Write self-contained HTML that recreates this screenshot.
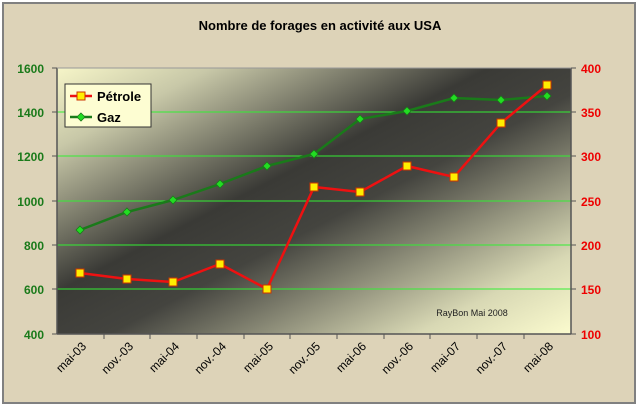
<!DOCTYPE html>
<html><head><style>
body{margin:0;background:#fff;}
svg{display:block;font-family:"Liberation Sans",Arial,sans-serif;}
</style></head><body>
<svg width="640" height="407" viewBox="0 0 640 407" xmlns="http://www.w3.org/2000/svg">
<defs>
<linearGradient id="bg" x1="0" y1="0" x2="1" y2="1">
<stop offset="0" stop-color="#f6f5c8"/>
<stop offset="0.15" stop-color="#c8c8a8"/>
<stop offset="0.42" stop-color="#3a3a36"/>
<stop offset="0.55" stop-color="#44443f"/>
<stop offset="0.85" stop-color="#d8d8b4"/>
<stop offset="1" stop-color="#fbfbce"/>
</linearGradient>
</defs>
<rect x="0" y="0" width="640" height="407" fill="#fff"/>
<rect x="3" y="3" width="632" height="400" fill="#ddd3b8" stroke="#808080" stroke-width="2"/>
<text x="320" y="30" text-anchor="middle" font-size="13" font-weight="bold" fill="#000">Nombre de forages en activité aux USA</text>
<rect x="57" y="68" width="514" height="266" fill="url(#bg)"/>
<g stroke="#33ee33" stroke-width="1">
<line x1="57" y1="112" x2="571" y2="112"/>
<line x1="57" y1="156" x2="571" y2="156"/>
<line x1="57" y1="201" x2="571" y2="201"/>
<line x1="57" y1="245" x2="571" y2="245"/>
<line x1="57" y1="289" x2="571" y2="289"/>
</g>
<g stroke="#555" stroke-width="1.5" fill="none">
<line x1="57" y1="68" x2="57" y2="334"/>
<line x1="571" y1="68" x2="571" y2="334"/>
<line x1="57" y1="334" x2="571" y2="334"/>
<line x1="57" y1="68" x2="571" y2="68" stroke="#999" stroke-width="1"/>
</g>
<g stroke="#555" stroke-width="1">
<line x1="52" y1="68" x2="57" y2="68"/><line x1="52" y1="112" x2="57" y2="112"/><line x1="52" y1="156" x2="57" y2="156"/><line x1="52" y1="201" x2="57" y2="201"/><line x1="52" y1="245" x2="57" y2="245"/><line x1="52" y1="289" x2="57" y2="289"/><line x1="52" y1="334" x2="57" y2="334"/>
<line x1="571" y1="68" x2="576" y2="68"/><line x1="571" y1="112" x2="576" y2="112"/><line x1="571" y1="156" x2="576" y2="156"/><line x1="571" y1="201" x2="576" y2="201"/><line x1="571" y1="245" x2="576" y2="245"/><line x1="571" y1="289" x2="576" y2="289"/><line x1="571" y1="334" x2="576" y2="334"/>
<line x1="104" y1="334" x2="104" y2="339"/><line x1="150" y1="334" x2="150" y2="339"/><line x1="197" y1="334" x2="197" y2="339"/><line x1="244" y1="334" x2="244" y2="339"/><line x1="290" y1="334" x2="290" y2="339"/><line x1="337" y1="334" x2="337" y2="339"/><line x1="384" y1="334" x2="384" y2="339"/><line x1="430" y1="334" x2="430" y2="339"/><line x1="477" y1="334" x2="477" y2="339"/><line x1="524" y1="334" x2="524" y2="339"/>
</g>
<g font-size="12" font-weight="bold" fill="#1a7a1a" text-anchor="end">
<text x="44" y="73">1600</text><text x="44" y="117">1400</text><text x="44" y="161">1200</text><text x="44" y="206">1000</text><text x="44" y="250">800</text><text x="44" y="294">600</text><text x="44" y="339">400</text>
</g>
<g font-size="12" font-weight="bold" fill="#ee0000" text-anchor="start">
<text x="581" y="73">400</text><text x="581" y="117">350</text><text x="581" y="161">300</text><text x="581" y="206">250</text><text x="581" y="250">200</text><text x="581" y="294">150</text><text x="581" y="339">100</text>
</g>
<g font-size="12" fill="#000" text-anchor="end">
<text transform="translate(87,347) rotate(-45)">mai-03</text>
<text transform="translate(134,347) rotate(-45)">nov.-03</text>
<text transform="translate(180,347) rotate(-45)">mai-04</text>
<text transform="translate(227,347) rotate(-45)">nov.-04</text>
<text transform="translate(274,347) rotate(-45)">mai-05</text>
<text transform="translate(321,347) rotate(-45)">nov.-05</text>
<text transform="translate(367,347) rotate(-45)">mai-06</text>
<text transform="translate(414,347) rotate(-45)">nov.-06</text>
<text transform="translate(461,347) rotate(-45)">mai-07</text>
<text transform="translate(508,347) rotate(-45)">nov.-07</text>
<text transform="translate(554,347) rotate(-45)">mai-08</text>
</g>
<text x="472" y="316" font-size="9" fill="#222" text-anchor="middle">RayBon Mai 2008</text>
<polyline fill="none" stroke="#1a7a1a" stroke-width="2.5" points="80,230 127,212 173,200 220,184 267,166 314,154 360,119 407,111 454,98 501,100 547,96"/>
<g fill="#22dd22" stroke="#1a7a1a" stroke-width="0.8">
<polygon points="80,226 84,230 80,234 76,230"/><polygon points="127,208 131,212 127,216 123,212"/><polygon points="173,196 177,200 173,204 169,200"/><polygon points="220,180 224,184 220,188 216,184"/><polygon points="267,162 271,166 267,170 263,166"/><polygon points="314,150 318,154 314,158 310,154"/><polygon points="360,115 364,119 360,123 356,119"/><polygon points="407,107 411,111 407,115 403,111"/><polygon points="454,94 458,98 454,102 450,98"/><polygon points="501,96 505,100 501,104 497,100"/><polygon points="547,92 551,96 547,100 543,96"/>
</g>
<polyline fill="none" stroke="#ee1111" stroke-width="2.5" points="80,273 127,279 173,282 220,264 267,289 314,187 360,192 407,166 454,177 501,123 547,85"/>
<g fill="#ffee00" stroke="#cc3300" stroke-width="1">
<rect x="76" y="269" width="8" height="8"/><rect x="123" y="275" width="8" height="8"/><rect x="169" y="278" width="8" height="8"/><rect x="216" y="260" width="8" height="8"/><rect x="263" y="285" width="8" height="8"/><rect x="310" y="183" width="8" height="8"/><rect x="356" y="188" width="8" height="8"/><rect x="403" y="162" width="8" height="8"/><rect x="450" y="173" width="8" height="8"/><rect x="497" y="119" width="8" height="8"/><rect x="543" y="81" width="8" height="8"/>
</g>
<rect x="65" y="84" width="86" height="43" fill="#fdfdd2" stroke="#333" stroke-width="1"/>
<line x1="70" y1="96" x2="92" y2="96" stroke="#ee1111" stroke-width="2.5"/>
<rect x="77" y="92" width="8" height="8" fill="#ffee00" stroke="#cc3300"/>
<text x="97" y="101" font-size="13" font-weight="bold">Pétrole</text>
<line x1="70" y1="117" x2="92" y2="117" stroke="#1a7a1a" stroke-width="2.5"/>
<polygon points="81,113 85,117 81,121 77,117" fill="#22dd22" stroke="#1a7a1a" stroke-width="0.8"/>
<text x="97" y="122" font-size="13" font-weight="bold">Gaz</text>
</svg>
</body></html>
